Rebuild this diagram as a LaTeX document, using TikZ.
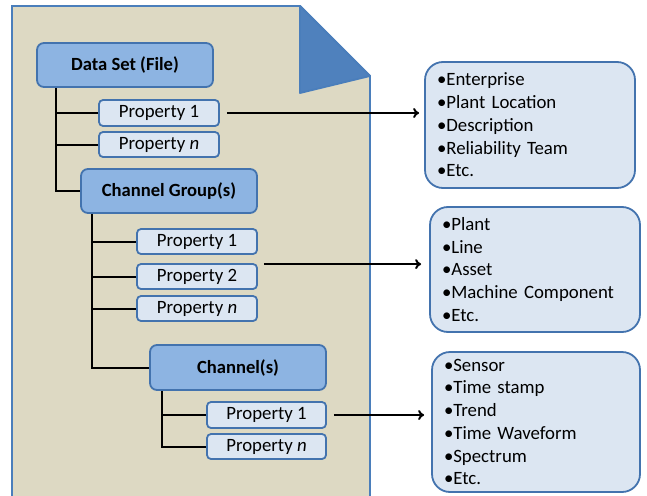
\documentclass[tikz,border=0pt]{standalone}
\usepackage{fontspec}
\setmainfont{Carlito}
\usetikzlibrary{arrows.meta}
\definecolor{pagefill}{HTML}{DDD9C3}
\definecolor{pageline}{HTML}{4A7EBB}
\definecolor{foldfill}{HTML}{4F81BD}
\definecolor{headfill}{HTML}{8DB4E2}
\definecolor{propfill}{HTML}{DCE6F2}
\definecolor{boxline}{HTML}{4373AE}
\tikzset{
  headbox/.style={draw=boxline, fill=headfill, line width=1.8pt, rounded corners=7pt,
    inner sep=0pt, minimum width=176pt, minimum height=44pt,
    font=\fontsize{18.6}{22}\selectfont\bfseries},
  propbox/.style={draw=boxline, fill=propfill, line width=1.8pt, rounded corners=4pt,
    inner sep=0pt, minimum width=120pt, minimum height=25pt,
    font=\fontsize{18.8}{22}\selectfont},
  listbox/.style={draw=boxline, fill=propfill, line width=1.8pt, rounded corners=18pt,
    inner xsep=12pt, inner ysep=0pt, align=left,
    font=\fontsize{18.8}{22.7}\selectfont},
  tree/.style={black, line width=2pt},
  link/.style={black, line width=2pt, -{To[length=6pt,width=10pt]}},
}
\begin{document}
\begin{tikzpicture}[x=1pt, y=-1pt]
\useasboundingbox (0,0) rectangle (647,495);
\clip (0,0) rectangle (647,495);

% document page with folded corner
\filldraw[fill=pagefill, draw=pageline, line width=1.8pt]
  (12,6) -- (300,6) -- (370,76) -- (370,520) -- (12,520) -- cycle;
\filldraw[fill=foldfill, draw=pageline, line width=1.8pt, line join=round]
  (300,6) -- (370,76) -- (300,93) -- cycle;

% data set level
\node[headbox] (ds) at (125,65) {Data Set (File)};
\node[propbox, minimum height=26pt] (dsp1) at (159,113) {Property 1};
\node[propbox] (dspn) at (159,144.5) {Property \textit{n}};

% channel group level
\node[headbox] (cg) at (169,191) {Channel Group(s)};
\node[propbox] (cgp1) at (197,241.5) {Property 1};
\node[propbox] (cgp2) at (197,276.5) {Property 2};
\node[propbox] (cgpn) at (197,308.5) {Property \textit{n}};

% channel level
\node[headbox, minimum height=45pt] (ch) at (238,367.5) {Channel(s)};
\node[propbox, minimum width=119pt, minimum height=26pt] (chp1) at (266.5,415) {Property 1};
\node[propbox, minimum width=119pt] (chpn) at (266.5,446.5) {Property \textit{n}};

% property lists
\node[listbox, minimum width=210pt, minimum height=126pt, text width=186pt] (l1) at (530,125)
  {•Enterprise\\•Plant Location\\•Description\\•Reliability Team\\•Etc.};
\node[listbox, minimum width=210pt, minimum height=125pt, text width=186pt] (l2) at (535,269.5)
  {•Plant\\•Line\\•Asset\\•Machine Component\\•Etc.};
\node[listbox, minimum width=208pt, minimum height=140pt, text width=184pt] (l3) at (536,422)
  {•Sensor\\•Time stamp\\•Trend\\•Time Waveform\\•Spectrum\\•Etc.};

% tree trunks
\coordinate (t1) at ([xshift=20pt]ds.south west);
\coordinate (t2) at ([xshift=12pt]cg.south west);
\coordinate (t3) at ([xshift=13pt]ch.south west);
\draw[tree] (t1) |- (cg.west);
\draw[tree] (dsp1.west) -- (dsp1.west -| t1);
\draw[tree] (dspn.west) -- (dspn.west -| t1);
\draw[tree] (t2) |- (ch.west);
\draw[tree] (cgp1.west) -- (cgp1.west -| t2);
\draw[tree] (cgp2.west) -- (cgp2.west -| t2);
\draw[tree] (cgpn.west) -- (cgpn.west -| t2);
\draw[tree] (t3) |- (chpn.west);
\draw[tree] (chp1.west) -- (chp1.west -| t3);

% links to property lists
\draw[link] ([xshift=7pt]dsp1.east) -- ([xshift=-5pt]dsp1.east -| l1.west);
\draw[link] ([xshift=6pt,yshift=-1pt]cgp2.north east) -- ([xshift=-8pt,yshift=-1pt]cgp2.north east -| l2.west);
\draw[link] ([xshift=7pt]chp1.east) -- ([xshift=-7pt]chp1.east -| l3.west);
\end{tikzpicture}
\end{document}
